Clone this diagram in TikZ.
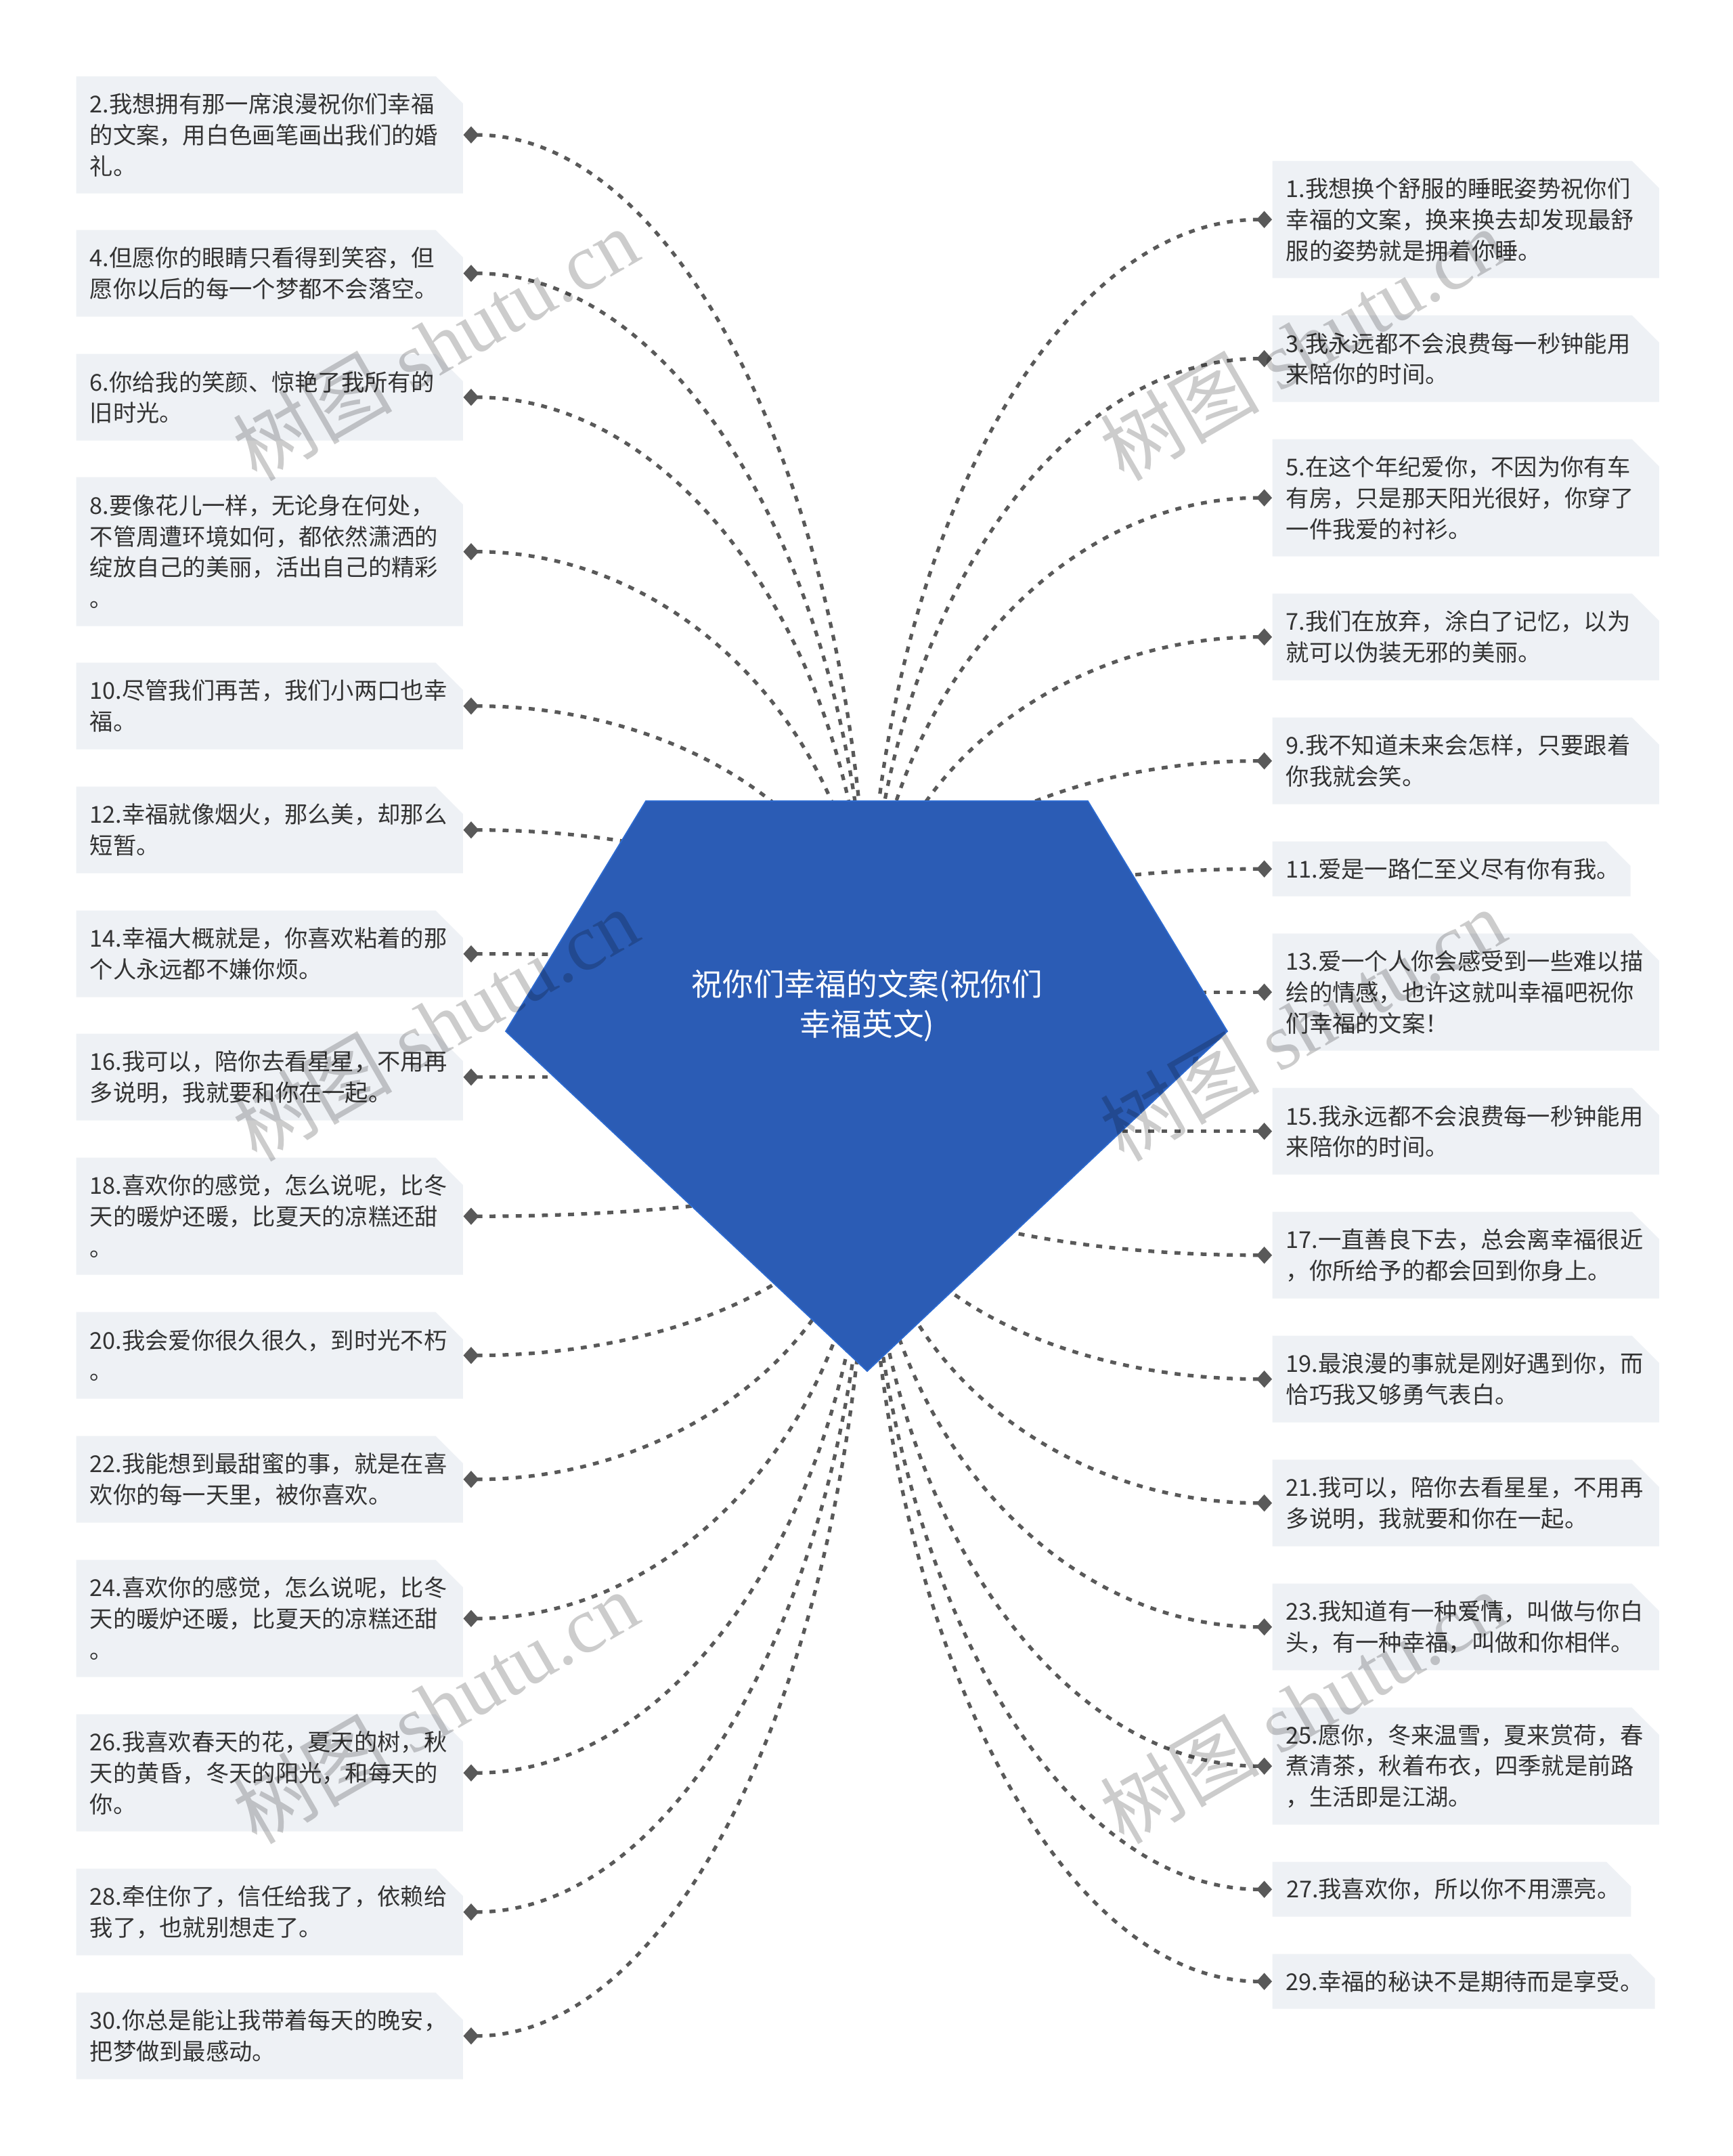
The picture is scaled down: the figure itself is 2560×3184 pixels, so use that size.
\documentclass[tikz,border=0pt]{standalone}
\usepackage{fontspec}
\setmainfont{Noto Sans CJK SC}
\newfontfamily\markfont{Liberation Serif}
\usetikzlibrary{shapes.misc, arrows.meta, backgrounds, calc}
\definecolor{boxgray}{HTML}{EEF1F5}
\definecolor{linegray}{HTML}{595959}
\definecolor{rootblue}{HTML}{2B5CB5}
\definecolor{rootedge}{HTML}{2D6AD0}
\tikzset{
  leaf/.style={chamfered rectangle,chamfered rectangle corners=north east,chamfered rectangle sep=5.7pt,
    fill=boxgray,inner xsep=0pt,inner ysep=0pt,text=black!80,align=left,font=\fontsize{9.75}{13}\selectfont,anchor=north west},
  link/.style={linegray,line width=1.5pt,dash pattern=on 2.5pt off 3pt,{Diamond[length=6.5pt,width=7.2pt]}-},
  wmark/.style={text=black,opacity=.2,rotate=30,font=\markfont\fontsize{33.5}{33.5}\selectfont}
}
\begin{document}
\begin{tikzpicture}[x=0.01cm,y=-0.01cm]
\useasboundingbox (0,0) rectangle (2560,3184);
% left column
\foreach \n/\t/\h/\txt in {
 2/112/173/{2.我想拥有那一席浪漫祝你们幸福\\的文案，用白色画笔画出我们的婚\\礼。},
 4/339/128/{4.但愿你的眼睛只看得到笑容，但\\愿你以后的每一个梦都不会落空。},
 6/522/128/{6.你给我的笑颜、惊艳了我所有的\\旧时光。},
 8/704/220/{8.要像花儿一样，无论身在何处，\\不管周遭环境如何，都依然潇洒的\\绽放自己的美丽，活出自己的精彩\\。},
 10/978/128/{10.尽管我们再苦，我们小两口也幸\\福。},
 12/1161/128/{12.幸福就像烟火，那么美，却那么\\短暂。},
 14/1344/128/{14.幸福大概就是，你喜欢粘着的那\\个人永远都不嫌你烦。},
 16/1526/128/{16.我可以，陪你去看星星，不用再\\多说明，我就要和你在一起。},
 18/1709/173/{18.喜欢你的感觉，怎么说呢，比冬\\天的暖炉还暖，比夏天的凉糕还甜\\。},
 20/1937/128/{20.我会爱你很久很久，到时光不朽\\。},
 22/2120/128/{22.我能想到最甜蜜的事，就是在喜\\欢你的每一天里，被你喜欢。},
 24/2303/173/{24.喜欢你的感觉，怎么说呢，比冬\\天的暖炉还暖，比夏天的凉糕还甜\\。},
 26/2531/173/{26.我喜欢春天的花，夏天的树，秋\\天的黄昏，冬天的阳光，和每天的\\你。},
 28/2759/128/{28.牵住你了，信任给我了，依赖给\\我了，也就别想走了。},
 30/2942/128/{30.你总是能让我带着每天的晚安，\\把梦做到最感动。}}
  \node[leaf,text width=531*0.01cm,minimum height=\h*0.01cm] (b\n) at (112,\t) {\txt};
% right column
\foreach \n/\t/\h/\txt in {
 1/237/173/{1.我想换个舒服的睡眠姿势祝你们\\幸福的文案，换来换去却发现最舒\\服的姿势就是拥着你睡。},
 3/465/128/{3.我永远都不会浪费每一秒钟能用\\来陪你的时间。},
 5/648/173/{5.在这个年纪爱你，不因为你有车\\有房，只是那天阳光很好，你穿了\\一件我爱的衬衫。},
 7/876/128/{7.我们在放弃，涂白了记忆，以为\\就可以伪装无邪的美丽。},
 9/1059/128/{9.我不知道未来会怎样，只要跟着\\你我就会笑。},
 13/1378/173/{13.爱一个人你会感受到一些难以描\\绘的情感，也许这就叫幸福吧祝你\\们幸福的文案！},
 15/1606/128/{15.我永远都不会浪费每一秒钟能用\\来陪你的时间。},
 17/1789/128/{17.一直善良下去，总会离幸福很近\\，你所给予的都会回到你身上。},
 19/1972/128/{19.最浪漫的事就是刚好遇到你，而\\恰巧我又够勇气表白。},
 21/2155/128/{21.我可以，陪你去看星星，不用再\\多说明，我就要和你在一起。},
 23/2338/128/{23.我知道有一种爱情，叫做与你白\\头，有一种幸福，叫做和你相伴。},
 25/2521/173/{25.愿你，冬来温雪，夏来赏荷，春\\煮清茶，秋着布衣，四季就是前路\\，生活即是江湖。}}
  \node[leaf,text width=531*0.01cm,minimum height=\h*0.01cm] (b\n) at (1879,\t) {\txt};
% one line boxes
\foreach \n/\t/\w/\txt in {
 11/1242/489/{11.爱是一路仁至义尽有你有我。},
 27/2749/489/{27.我喜欢你，所以你不用漂亮。},
 29/2885/525/{29.幸福的秘诀不是期待而是享受。}}
  \node[leaf,inner xsep=1.14pt,text width=\w*0.01cm,minimum height=81*0.01cm] (b\n) at (1879,\t) {\txt};
% centre
\coordinate (hubtop) at (1282,1444);
\coordinate (hubmid) at (1282,1525);
\coordinate (hubbot) at (1282,1708);
\fill[rootblue,draw=rootedge,line width=.5pt] (954,1183)--(1607,1183)--(1813,1523)--(1281,2025)--(747,1523)--cycle;
\node[text=white,align=center,font=\fontsize{13}{16.8}\selectfont] (root) at (1281,1485) {祝你们幸福的文案(祝你们\\幸福英文)};
\begin{pgfonlayer}{background}
\foreach \a/\hub/\list in {east/hubtop/{2,4,6,8,10,12,14},west/hubtop/{1,3,5,7,9,11},east/hubbot/{18,20,22,24,26,28,30},west/hubbot/{17,19,21,23,25,27,29}}
  \foreach \k in \list
    \draw[link] let \p1=(b\k.\a),\p2=(\hub) in (\p1) .. controls (0.45*\x1+0.55*\x2,\y1) and (\x2,0.45*\y2+0.55*\y1) .. (\p2);
\foreach \k/\a in {16/east,15/west,13/west}
  \draw[link] (b\k.\a) -- (b\k.\a -| hubmid);
\end{pgfonlayer}
% watermarks
\foreach \i/\x/\y in {1/643/508,2/643/1513,3/643/2521,4/1924/508,5/1924/1513,6/1924/2521}
  \node[wmark] (w\i) at (\x,\y) {{\fontspec{Noto Sans CJK SC}树图} shutu.cn};
\end{tikzpicture}
\end{document}
